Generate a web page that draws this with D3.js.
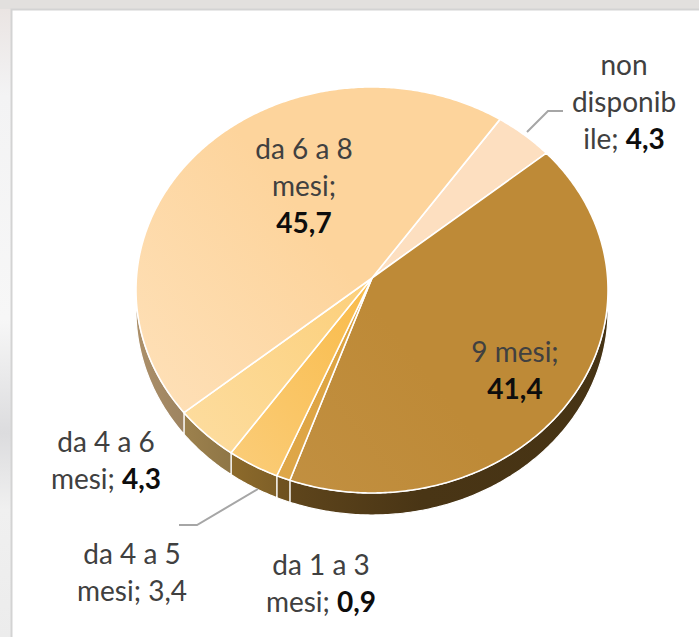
<!DOCTYPE html>
<html>
<head>
<meta charset="utf-8">
<script src="https://cdn.jsdelivr.net/npm/d3@7"></script>
<style>
  body { margin: 0; background: #fff; }
  svg { display: block; }
  text { font-family: Lato, "Open Sans", sans-serif; }
</style>
</head>
<body>
<svg id="pie" width="699" height="637"></svg>
<script>
// data
var categories = ["non disponibile", "9 mesi", "da 1 a 3 mesi", "da 4 a 5 mesi", "da 4 a 6 mesi", "da 6 a 8 mesi"];
var values = [4.3, 41.4, 0.9, 3.4, 4.3, 45.7];
var boldValue = [true, true, true, false, true, true];
var colors = ["#FDDFC0", "#BE8A37", "#DDA23F", "#F9BC4C", "#FCD07C", "#FDD49C"];

// how Excel wrapped each label
var labelLines = [
  ["non", "disponib", "ile;"],
  ["9 mesi;"],
  ["da 1 a 3", "mesi;"],
  ["da 4 a 5", "mesi;"],
  ["da 4 a 6", "mesi;"],
  ["da 6 a 8", "mesi;"]
];
var valueOnNewLine = [false, true, false, false, false, true];

var width = 699, height = 637;
var svg = d3.select("#pie");
var defs = svg.append("defs");

// slide background + chart box
var bg = defs.append("linearGradient").attr("id", "bg").attr("x1", 0).attr("y1", 0).attr("x2", 0).attr("y2", 1);
[["0", "#e9e3e1"], ["0.15", "#f3f3f4"], ["0.5", "#f7f7f7"], ["0.68", "#dcdcde"], ["0.8", "#f0f0f0"], ["1", "#ececec"]]
  .forEach(function(s) { bg.append("stop").attr("offset", s[0]).attr("stop-color", s[1]); });
svg.append("rect").attr("width", width).attr("height", height).attr("fill", "url(#bg)");
svg.append("rect").attr("x", 0).attr("y", 0).attr("width", width).attr("height", 9).attr("fill", "#e2e0de");
svg.append("rect")
    .attr("x", 11.5).attr("y", 9.5)
    .attr("width", width).attr("height", height)
    .attr("fill", "#fff")
    .attr("stroke", "#d3d3d3")
    .attr("stroke-width", 2);

// 3D perspective projection of the pie disc
var cx = 372, cy = 278, B = 235.6, A = 202.3, k = 0.059, thick = 22;

function proj(theta, drop) {
  var d = 1 + k * Math.cos(theta);
  return [cx + B * Math.sin(theta) / d,
          cy - A * Math.cos(theta) / d + (drop || 0) * (1 - k) / d];
}

function arcPoints(a0, a1, drop) {
  var n = Math.max(2, Math.ceil((a1 - a0) / 0.01));
  return d3.range(n + 1).map(function(i) { return proj(a0 + (a1 - a0) * i / n, drop); });
}

var start = 34.7 * Math.PI / 180;
var arcs = d3.pie()
    .sort(null)
    .value(function(d) { return d; })
    .startAngle(start)
    .endAngle(start + 2 * Math.PI);

var slices = arcs(values);
var line = d3.line();

// gradients for top faces and side walls
slices.forEach(function(s, i) {
  var c = colors[i];
  var light = d3.hsl(c).l > 0.6 ? 0.3 : 0.07;
  var g = defs.append("linearGradient").attr("id", "top" + i)
      .attr("gradientUnits", "userSpaceOnUse")
      .attr("x1", 150).attr("y1", 440).attr("x2", 560).attr("y2", 120);
  g.append("stop").attr("offset", 0).attr("stop-color", d3.interpolateRgb(c, "#fff")(light));
  g.append("stop").attr("offset", 0.5).attr("stop-color", c);
  g.append("stop").attr("offset", 1).attr("stop-color", c);

  var w = defs.append("linearGradient").attr("id", "side" + i)
      .attr("gradientUnits", "userSpaceOnUse")
      .attr("x1", 139).attr("y1", 0).attr("x2", 611).attr("y2", 0);
  w.append("stop").attr("offset", 0).attr("stop-color", d3.color(c).darker(1.1));
  w.append("stop").attr("offset", 0.3).attr("stop-color", d3.color(c).darker(1.9));
  w.append("stop").attr("offset", 0.6).attr("stop-color", d3.color(c).darker(2.7));
  w.append("stop").attr("offset", 1).attr("stop-color", d3.color(c).darker(2.8));
});

// visible part of the outer wall
var v0 = Math.acos(-k), v1 = 2 * Math.PI - Math.acos(-k);
var sides = svg.append("g").classed("sides", true);
slices.forEach(function(s, i) {
  [0, 2 * Math.PI].forEach(function(off) {
    var a0 = Math.max(s.startAngle, v0 + off), a1 = Math.min(s.endAngle, v1 + off);
    if (a1 <= a0) return;
    var pts = arcPoints(a0, a1, 0).concat(arcPoints(a0, a1, thick).reverse());
    sides.append("path")
        .attr("d", line(pts) + "Z")
        .attr("fill", "url(#side" + i + ")")
        .attr("stroke", "#fff")
        .attr("stroke-width", 1.2)
        .attr("stroke-linejoin", "round");
  });
});

var tops = svg.append("g").classed("tops", true);
tops.selectAll("path")
  .data(slices)
  .enter()
  .append("path")
    .attr("d", function(s) {
      return line([[cx, cy]].concat(arcPoints(s.startAngle, s.endAngle, 0))) + "Z";
    })
    .attr("fill", function(s, i) { return "url(#top" + i + ")"; })
    .attr("stroke", "#fff")
    .attr("stroke-width", 1.6)
    .attr("stroke-linejoin", "round");

// leader lines
var leaders = [
  [[527, 132], [548, 111], [563, 111]],
  [[258, 489], [197, 525], [179, 525]]
];
svg.selectAll(".leader")
  .data(leaders)
  .enter()
  .append("path")
    .classed("leader", true)
    .attr("d", function(d) { return line(d); })
    .attr("fill", "none")
    .attr("stroke", "#a6a6a6")
    .attr("stroke-width", 2);

// data labels
var labelPos = [[624, 75], [515, 362], [321, 575], [132, 564], [106, 452], [304, 159]];
var lineHeight = 37;
var fmt = function(v) { return d3.format(".1f")(v).replace(".", ","); };

slices.forEach(function(s, i) {
  var t = svg.append("text")
      .attr("x", labelPos[i][0])
      .attr("y", labelPos[i][1])
      .attr("font-size", "28px")
      .attr("fill", "#404040")
      .style("text-anchor", "middle");
  var lines = labelLines[i];
  lines.forEach(function(l, j) {
    var ts = t.append("tspan")
        .attr("x", labelPos[i][0])
        .attr("dy", j === 0 ? 0 : lineHeight)
        .text(l);
    if (j === lines.length - 1 && !valueOnNewLine[i]) {
      ts.text(l + " ");
      t.append("tspan")
          .attr("font-weight", boldValue[i] ? "bold" : "normal")
          .attr("fill", boldValue[i] ? "#0d0d0d" : "#404040")
          .text(fmt(values[i]));
    }
  });
  if (valueOnNewLine[i]) {
    t.append("tspan")
        .attr("x", labelPos[i][0])
        .attr("dy", lineHeight)
        .attr("font-weight", boldValue[i] ? "bold" : "normal")
        .attr("fill", "#0d0d0d")
        .text(fmt(values[i]));
  }
});
</script>
</body>
</html>
